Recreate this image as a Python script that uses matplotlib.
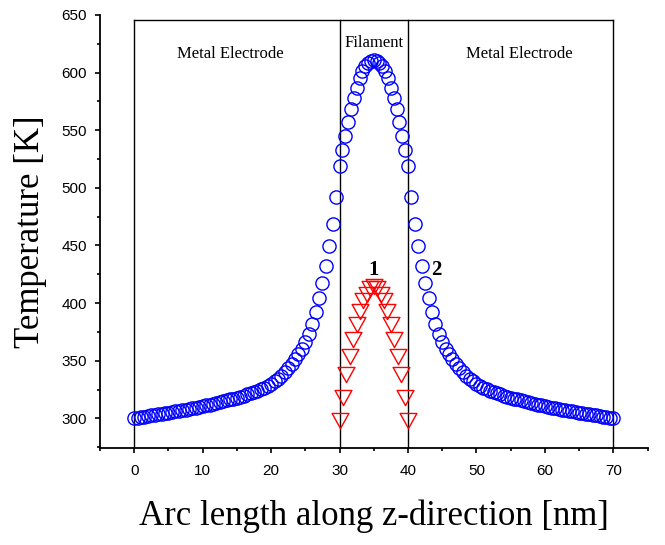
import numpy as np
import matplotlib
matplotlib.use("Agg")
import matplotlib.pyplot as plt
from matplotlib.path import Path

# ---- data ----
# Curve 2 (blue circles): left electrode (0..29.5 nm), filament (30..40 nm), right electrode (40.5..70 nm)
x_left = np.arange(0, 30, 0.5)
t_left = [300.0, 300.5, 301.0, 301.5, 302.0, 302.5, 303.0, 303.5, 304.0, 304.5,
          305.0, 305.5, 306.0, 306.5, 307.0, 307.6, 308.2, 308.8, 309.4, 310.0,
          310.6, 311.2, 311.9, 312.6, 313.3, 314.0, 314.8, 315.6, 316.4, 317.2,
          318.0, 318.9, 319.8, 320.8, 321.8, 322.9, 324.0, 325.2, 326.6, 328.2,
          330.0, 332.0, 334.3, 337.0, 340.0, 343.3, 347.0, 351.1, 355.6, 360.6,
          366.3, 373.0, 381.5, 392.0, 404.5, 417.3, 432.0, 449.3, 468.3, 492.0]
x_fil = np.linspace(30, 40, 25)
t_fil = [519, 533, 545, 557, 568, 578, 587, 595, 601, 605.5, 608.5, 610.3, 611,
         610.3, 608.5, 605.5, 601, 595, 587, 578, 568, 557, 545, 533, 519]
x_right = np.arange(40.5, 70.01, 0.5)
t_right = [492.0, 468.3, 449.3, 432.0, 417.3, 404.5, 392.0, 381.5, 373.0, 366.3,
           360.6, 355.6, 351.1, 347.0, 343.3, 340.0, 337.0, 334.3, 332.0, 330.0,
           328.2, 326.6, 325.2, 324.0, 322.9, 321.8, 320.8, 319.8, 318.9, 318.0,
           317.2, 316.4, 315.6, 314.8, 314.0, 313.3, 312.6, 311.9, 311.2, 310.6,
           310.0, 309.4, 308.8, 308.2, 307.6, 307.0, 306.5, 306.0, 305.5, 305.0,
           304.5, 304.0, 303.5, 303.0, 302.5, 302.0, 301.5, 301.0, 300.5, 300.0]

# Curve 1 (red triangles): filament only
x_red = np.arange(30, 40.01, 0.5)
t_red = [300, 320, 340, 356, 371, 384, 395, 404, 410, 415, 417,
         415, 410, 404, 395, 384, 371, 356, 340, 320, 300]

region_edges = [0, 30, 40, 70]
region_top = 646
x_ticks = [0, 10, 20, 30, 40, 50, 60, 70]
y_ticks = [300, 350, 400, 450, 500, 550, 600, 650]

# ---- plot ----
plt.rcParams['font.family'] = ['Liberation Serif', 'DejaVu Serif']
fig = plt.figure(figsize=(6.65, 5.45), dpi=100)
ax = fig.add_axes([0.1504, 0.1774, 0.8233, 0.7951])

x_blue = np.concatenate([x_left, x_fil, x_right])
t_blue = np.concatenate([t_left, t_fil, t_right])

ax.plot(x_blue, t_blue, linestyle='none', marker='o', markersize=9.5,
        markerfacecolor='none', markeredgecolor='#0000ff', markeredgewidth=1.0, zorder=3)

tri = Path([(-1, 0.6), (1, 0.6), (0, -1.2), (-1, 0.6)],
           [Path.MOVETO, Path.LINETO, Path.LINETO, Path.CLOSEPOLY])
ax.plot(x_red, t_red, linestyle='none', marker=tri, markersize=14.5,
        markerfacecolor='none', markeredgecolor='#ff0000', markeredgewidth=1.0, zorder=3)

ylo = 274
for xe in region_edges:
    ax.plot([xe, xe], [ylo, region_top], color='black', lw=1.0, zorder=2)
ax.plot([region_edges[0], region_edges[-1]], [region_top, region_top], color='black', lw=1.0, zorder=2)

ax.text(14.1, 616, 'Metal Electrode', ha='center', va='center', fontsize=12)
ax.text(56.3, 616, 'Metal Electrode', ha='center', va='center', fontsize=12)
ax.text(35.1, 626, 'Filament', ha='center', va='center', fontsize=12)
ax.text(35.0, 429, '1', ha='center', va='center', fontsize=15, fontweight='bold')
ax.text(44.2, 429, '2', ha='center', va='center', fontsize=15, fontweight='bold')

ax.set_xlim(-5, 75)
ax.set_ylim(ylo, 650)
ax.set_xticks(x_ticks)
ax.set_yticks(y_ticks)
ax.set_xticks(np.arange(-5, 76, 5), minor=True)
ax.set_yticks(np.arange(275, 651, 25), minor=True)

for lab in ax.get_xticklabels() + ax.get_yticklabels():
    lab.set_fontfamily('Liberation Sans')
    lab.set_fontsize(11)
ax.tick_params(which='major', direction='out', length=3.5, width=1.2, pad=8)
ax.tick_params(which='minor', direction='out', length=2.2, width=1.2)
ax.tick_params(axis='y', which='major', pad=6)

ax.spines['top'].set_visible(False)
ax.spines['right'].set_visible(False)
ax.spines['left'].set_linewidth(1.3)
ax.spines['bottom'].set_linewidth(1.3)

ax.set_xlabel('Arc length along z-direction [nm]', fontsize=25, labelpad=15)
ax.set_ylabel('Temperature [K]', fontsize=25, labelpad=10)

fig.savefig('out.png', dpi=100)
